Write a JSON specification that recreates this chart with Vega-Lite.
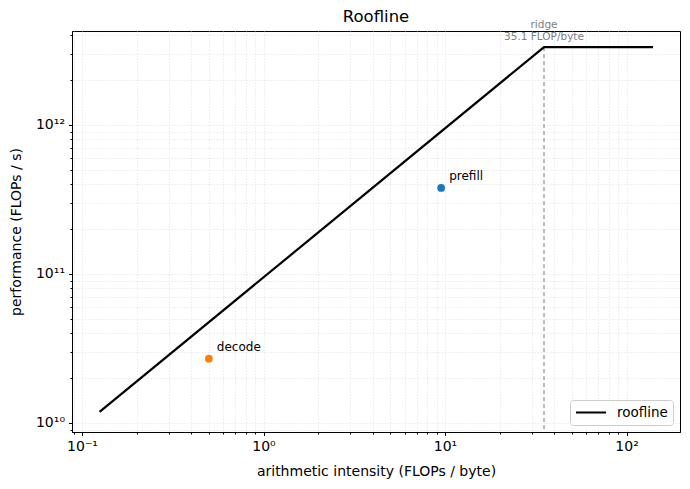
{
  "$schema": "https://vega.github.io/schema/vega-lite/v6.json",
  "width": 608,
  "height": 401,
  "autosize": {"type": "none"},
  "padding": {"left": 72, "top": 31, "right": 10, "bottom": 57},
  "background": "white",
  "config": {
    "font": "DejaVu Sans",
    "view": {"stroke": "black", "strokeWidth": 1},
    "axis": {
      "domainColor": "black",
      "tickColor": "black",
      "labelColor": "black",
      "titleColor": "black",
      "labelFontSize": 14,
      "titleFontSize": 14,
      "titleFontWeight": "normal",
      "labelOverlap": false,
      "labelFlush": false,
      "gridColor": "#e6e6e6",
      "gridDash": [1.5, 1.5],
      "gridWidth": 0.8
    }
  },
  "title": {"text": "Roofline", "fontSize": 16.5, "fontWeight": "normal", "anchor": "middle", "offset": -5, "color": "black"},
  "datasets": {
    "roof": [
      {"intensity": 0.125, "perf": 1.186e10},
      {"intensity": 35.1, "perf": 3.33e12},
      {"intensity": 140, "perf": 3.33e12}
    ],
    "kernels": [
      {"kernel": "prefill", "intensity": 9.52, "perf": 3.78e11},
      {"kernel": "decode", "intensity": 0.5, "perf": 2.7e10}
    ],
    "ridge": [
      {"intensity": 35.1, "perf": 3.33e12, "label": "ridge\n35.1 FLOP/byte"}
    ]
  },
  "encoding": {
    "x": {
      "field": "intensity",
      "type": "quantitative",
      "scale": {"type": "log", "domain": [0.0881, 197], "nice": false},
      "axis": {
        "title": "arithmetic intensity (FLOPs / byte)",
        "titlePadding": 11,
        "labelPadding": 4,
        "grid": true,
        "values": [0.09, 0.1, 0.2, 0.3, 0.4, 0.5, 0.6, 0.7, 0.8, 0.9, 1, 2, 3, 4, 5, 6, 7, 8, 9, 10, 20, 30, 40, 50, 60, 70, 80, 90, 100],
        "labelExpr": "datum.value == 0.1 ? '10⁻¹' : datum.value == 1 ? '10⁰' : datum.value == 10 ? '10¹' : datum.value == 100 ? '10²' : ''",
        "tickSize": {"condition": {"test": "indexof([0.1, 1, 10, 100], datum.value) >= 0", "value": 3.5}, "value": 2}
      }
    },
    "y": {
      "field": "perf",
      "type": "quantitative",
      "scale": {"type": "log", "domain": [8.7e9, 4.27e12], "nice": false},
      "axis": {
        "title": "performance (FLOPs / s)",
        "titlePadding": 12,
        "labelPadding": 4,
        "grid": true,
        "values": [9e9, 1e10, 2e10, 3e10, 4e10, 5e10, 6e10, 7e10, 8e10, 9e10, 1e11, 2e11, 3e11, 4e11, 5e11, 6e11, 7e11, 8e11, 9e11, 1e12, 2e12, 3e12, 4e12],
        "labelExpr": "datum.value == 1e10 ? '10¹⁰' : datum.value == 1e11 ? '10¹¹' : datum.value == 1e12 ? '10¹²' : ''",
        "tickSize": {"condition": {"test": "indexof([1e10, 1e11, 1e12], datum.value) >= 0", "value": 3.5}, "value": 2}
      }
    }
  },
  "layer": [
    {
      "data": {"name": "ridge"},
      "mark": {"type": "rule", "color": "#777777", "strokeWidth": 1, "strokeDash": [4, 3]},
      "encoding": {"y2": {"datum": 8.7e9}}
    },
    {
      "data": {"name": "ridge"},
      "mark": {"type": "text", "align": "center", "baseline": "middle", "dy": -22, "fontSize": 10.5, "color": "#808080", "lineBreak": "\n", "lineHeight": 11.5},
      "encoding": {"text": {"field": "label"}}
    },
    {
      "data": {"name": "roof"},
      "mark": {"type": "line", "strokeWidth": 2.2, "clip": true},
      "encoding": {
        "stroke": {
          "datum": "roofline",
          "scale": {"range": ["black"]},
          "legend": {
            "title": null,
            "orient": "bottom-right",
            "offset": 7,
            "symbolType": "stroke",
            "symbolSize": 900,
            "symbolStrokeWidth": 2,
            "labelFontSize": 13.5,
            "labelOffset": 10,
            "labelColor": "black",
            "clipHeight": 15,
            "strokeColor": "#cccccc",
            "fillColor": "white",
            "cornerRadius": 3,
            "padding": 5
          }
        }
      }
    },
    {
      "data": {"name": "kernels"},
      "mark": {"type": "point", "filled": true, "opacity": 1, "size": 60},
      "encoding": {
        "color": {
          "field": "kernel",
          "type": "nominal",
          "scale": {"domain": ["prefill", "decode"], "range": ["#1f77b4", "#ff7f0e"]},
          "legend": null
        }
      }
    },
    {
      "data": {"name": "kernels"},
      "mark": {"type": "text", "align": "left", "baseline": "middle", "dx": 8, "dy": -12, "fontSize": 12, "color": "black"},
      "encoding": {"text": {"field": "kernel"}}
    }
  ]
}
